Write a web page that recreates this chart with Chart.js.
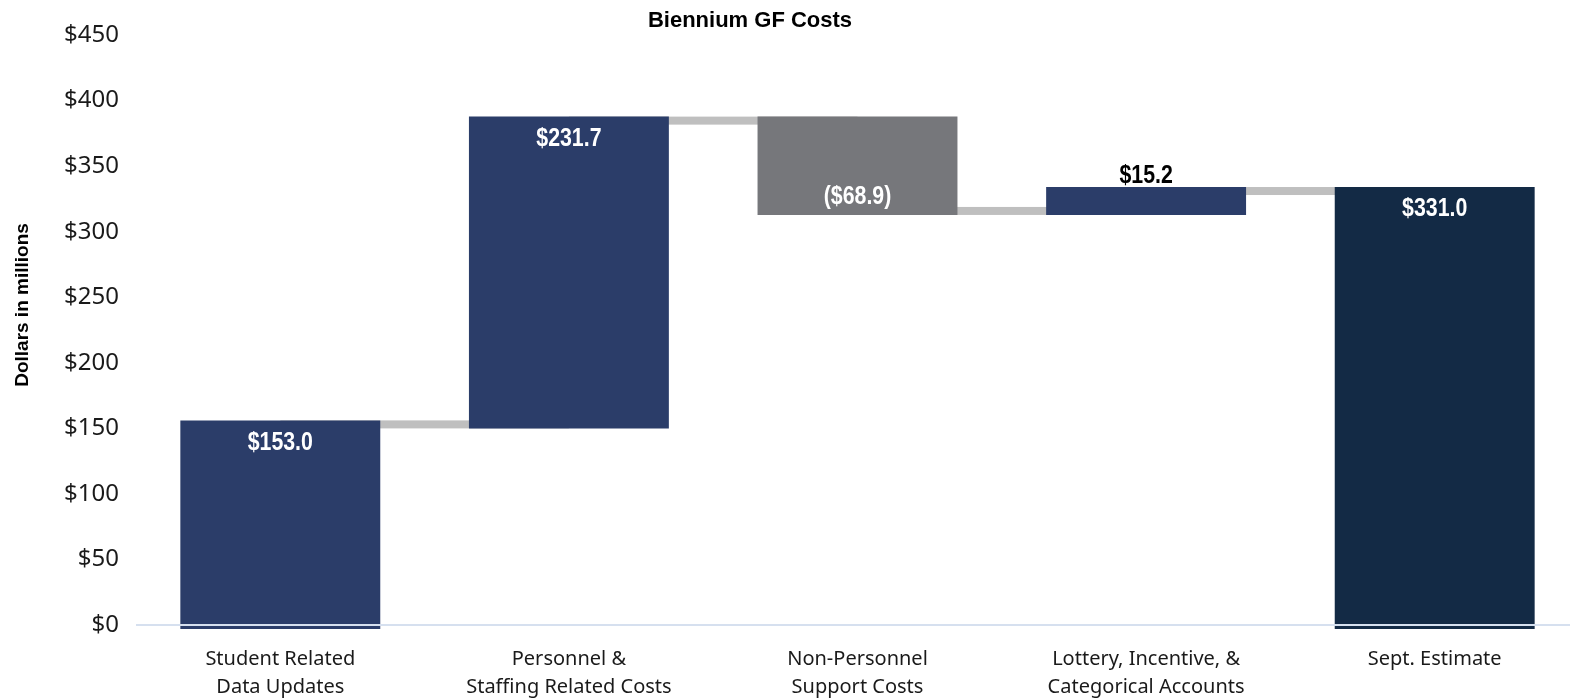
<!DOCTYPE html>
<html>
<head>
<meta charset="utf-8">
<script src="https://cdn.jsdelivr.net/npm/chart.js@4.4.1/dist/chart.umd.min.js"></script>
<style>
  html, body { margin: 0; padding: 0; background: #ffffff; overflow: hidden; }
  #wrap { position: relative; width: 1580px; height: 699px; }
</style>
</head>
<body>
<div id="wrap"><canvas id="c"></canvas></div>
<script>
// ---- data ----
const categories = [
  ['Student Related', 'Data Updates'],
  ['Personnel &', 'Staffing Related Costs'],
  ['Non-Personnel', 'Support Costs'],
  ['Lottery, Incentive, &', 'Categorical Accounts'],
  'Sept. Estimate'
];
const changes = [153.0, 231.7, -68.9, 15.2];
const totalValue = 331.0;
const yTickValues = [0, 50, 100, 150, 200, 250, 300, 350, 400, 450];
const chartTitle = 'Biennium GF Costs';
const yAxisTitle = 'Dollars in millions';

// ---- colours ----
const COL_UP = '#2b3d69';
const COL_DOWN = '#76777b';
const COL_TOTAL = '#132a45';
const COL_CONNECT = '#bfbfbf';
const COL_ZERO = '#d6e0ef';

// ---- build floating bars ----
const floating = [];
const barValues = [];
const colors = [];
let run = 0;
changes.forEach(v => {
  floating.push([run, run + v]);
  run += v;
  barValues.push(v);
  colors.push(v < 0 ? COL_DOWN : COL_UP);
});
floating.push([0, totalValue]);
barValues.push(totalValue);
colors.push(COL_TOTAL);

function fmt(v) {
  const s = '$' + Math.abs(v).toFixed(1);
  return v < 0 ? '(' + s + ')' : s;
}

const labelFont = 'bold 26px "Liberation Sans", Arial, sans-serif';
const NARROW = 0.82;

function narrowText(ctx, text, x, y) {
  ctx.save();
  ctx.translate(x, y);
  ctx.scale(NARROW, 1);
  ctx.fillText(text, 0, 0);
  ctx.restore();
}

const waterfallPlugin = {
  id: 'waterfall',
  beforeDatasetsDraw(chart) {
    const ctx = chart.ctx;
    const meta = chart.getDatasetMeta(0);
    const ys = chart.scales.y;
    ctx.save();
    ctx.fillStyle = COL_CONNECT;
    for (let i = 0; i < floating.length - 1; i++) {
      const level = floating[i][1];
      const y = ys.getPixelForValue(level);
      const x1 = meta.data[i].x;
      const x2 = meta.data[i + 1].x;
      ctx.fillRect(x1, y - 4, x2 - x1, 8);
    }
    ctx.restore();
  },
  afterDatasetsDraw(chart) {
    const ctx = chart.ctx;
    const meta = chart.getDatasetMeta(0);
    const ys = chart.scales.y;
    const area = chart.chartArea;
    ctx.save();
    // zero line
    const y0 = ys.getPixelForValue(0);
    ctx.strokeStyle = COL_ZERO;
    ctx.lineWidth = 2;
    ctx.beginPath();
    ctx.moveTo(area.left, y0);
    ctx.lineTo(area.right + 20, y0);
    ctx.stroke();
    // labels
    ctx.font = labelFont;
    ctx.textAlign = 'center';
    ctx.textBaseline = 'middle';
    meta.data.forEach((el, i) => {
      const v = barValues[i];
      const yEnd = ys.getPixelForValue(floating[i][1]);
      const yBase = ys.getPixelForValue(floating[i][0]);
      const h = Math.abs(yEnd - yBase);
      const dir = yBase > yEnd ? 1 : -1; // direction from end toward base
      if (h < 40) {
        const top = Math.min(yEnd, yBase);
        ctx.fillStyle = '#000000';
        narrowText(ctx, fmt(v), el.x, top - 15);
      } else {
        ctx.fillStyle = '#ffffff';
        narrowText(ctx, fmt(v), el.x, yEnd + dir * (dir > 0 ? 18 : 14));
      }
    });
    ctx.restore();
  },
  afterDraw(chart) {
    const ctx = chart.ctx;
    ctx.save();
    ctx.fillStyle = '#000000';
    ctx.textAlign = 'center';
    ctx.textBaseline = 'middle';
    ctx.font = 'bold 22px "Liberation Sans", Arial, sans-serif';
    ctx.fillText(chartTitle, 750, 21);
    ctx.font = 'bold 19px "Liberation Sans", Arial, sans-serif';
    ctx.translate(23, 305);
    ctx.rotate(-Math.PI / 2);
    ctx.fillText(yAxisTitle, 0, 0);
    ctx.restore();
  }
};

new Chart(document.getElementById('c'), {
  type: 'bar',
  data: {
    labels: categories,
    datasets: [{
      data: floating,
      backgroundColor: colors,
      borderWidth: 0,
      inflateAmount: 4,
      clip: false,
      categoryPercentage: 1.0,
      barPercentage: 0.665
    }]
  },
  options: {
    responsive: true,
    maintainAspectRatio: false,
    animation: false,
    events: [],
    layout: { padding: { top: 35, right: 1, bottom: 0, left: 0 } },
    plugins: {
      legend: { display: false },
      title: { display: false },
      tooltip: { enabled: false }
    },
    scales: {
      x: {
        afterFit(scale) { scale.height = 74; },
        grid: { display: false, drawTicks: false },
        border: { display: false },
        ticks: {
          color: '#1a1a1a',
          font: { family: '"Noto Sans", "Open Sans", sans-serif', size: 20, lineHeight: 1.4 },
          padding: 20,
          maxRotation: 0,
          autoSkip: false
        }
      },
      y: {
        min: 0,
        max: 450,
        afterBuildTicks(scale) { scale.ticks = yTickValues.map(v => ({ value: v })); },
        afterFit(scale) { scale.width = 136; },
        grid: { display: false, drawTicks: false },
        border: { display: false },
        ticks: {
          color: '#1a1a1a',
          font: { family: '"Noto Sans", "Open Sans", sans-serif', size: 24 },
          padding: 17,
          callback: v => '$' + v
        },
        title: { display: false }
      }
    }
  },
  plugins: [waterfallPlugin]
});
</script>
</body>
</html>
